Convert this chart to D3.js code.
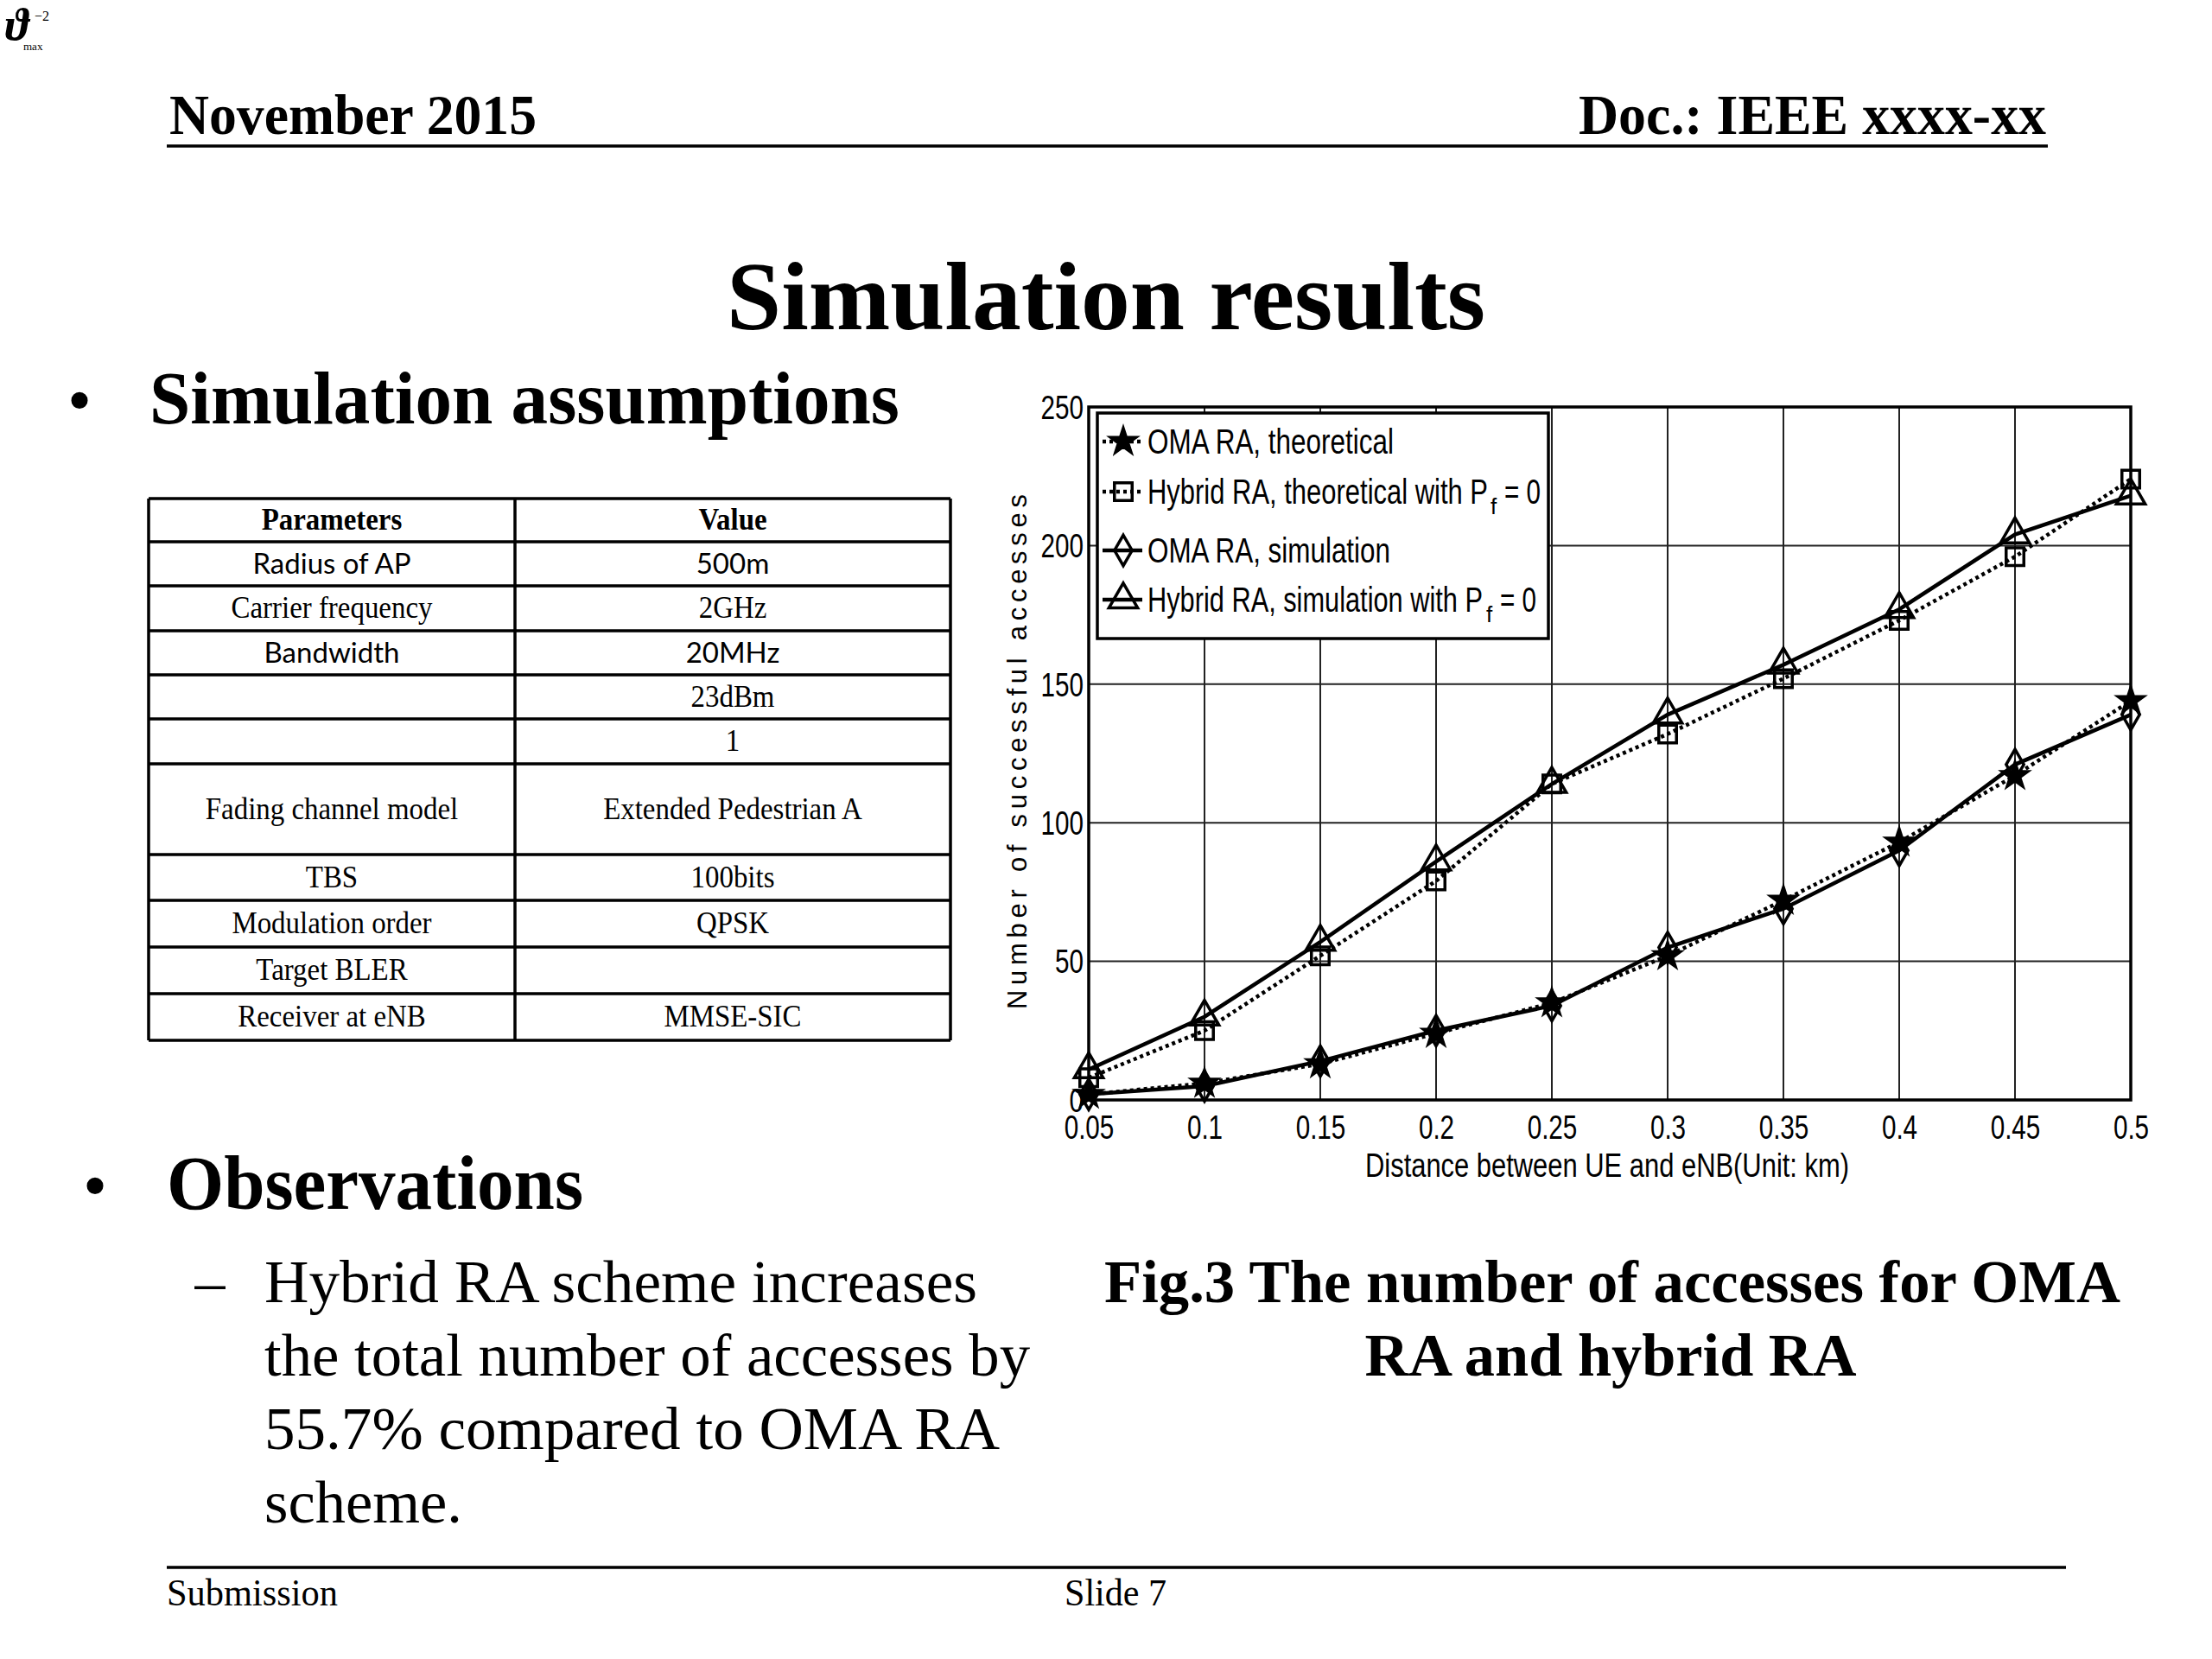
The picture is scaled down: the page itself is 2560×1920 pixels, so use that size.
<!DOCTYPE html>
<html><head><meta charset="utf-8">
<script src="https://cdn.jsdelivr.net/npm/d3@7"></script>
<style>html,body{margin:0;padding:0;background:#fff}</style>
</head><body>
<svg id="c" width="2560" height="1920"></svg>
<script>
// ---- data ----
const distances = [0.05,0.1,0.15,0.2,0.25,0.3,0.35,0.4,0.45,0.5];
const xTickLabels = ["0.05","0.1","0.15","0.2","0.25","0.3","0.35","0.4","0.45","0.5"];
const yTicks = [0,50,100,150,200,250];
const omaTheory    = [2, 6, 13, 24, 35, 52, 72, 93, 117, 144];
const hybridTheory = [8, 25, 52, 79, 114, 132, 152, 173, 196, 224];
const omaSim       = [2, 5, 14, 25, 34, 55, 69, 90, 121, 139];
const hybridSim    = [11, 30, 57, 86, 114, 139, 157, 177, 204, 218];
const seriesNames = ["OMA RA, theoretical","Hybrid RA, theoretical with P","OMA RA, simulation","Hybrid RA, simulation with P"];
const tableParams = ["Radius of AP","Carrier frequency","Bandwidth","","","Fading channel model","TBS","Modulation order","Target BLER","Receiver at eNB"];
const tableValues = ["500m","2GHz","20MHz","23dBm","1","Extended Pedestrian A","100bits","QPSK","","MMSE-SIC"];

const svg = d3.select("#c");
svg.append("rect").attr("width",2560).attr("height",1920).attr("fill","#fff");
const serif = "'Liberation Serif','Times New Roman',serif";
const sans = "'Liberation Sans',Arial,Helvetica,sans-serif";

function txt(s, x, y, size, opts={}) {
  const t = svg.append("text").attr("x",x).attr("y",y).text(s)
    .attr("font-family", opts.family||serif).attr("font-size",size)
    .attr("font-weight", opts.bold?"bold":"normal").attr("fill","#000");
  if (opts.anchor) t.attr("text-anchor",opts.anchor);
  if (opts.len) t.attr("textLength",opts.len).attr("lengthAdjust","spacingAndGlyphs");
  return t;
}

// top-left glyph
txt("ϑ", 6, 46, 52, {family:serif, bold:true}).attr("font-style","italic");
txt("−2", 40, 24, 16, {});
txt("max", 27, 58, 13, {});

// header
txt("November 2015", 196, 155, 66, {bold:true, len:425});
txt("Doc.: IEEE xxxx-xx", 2368, 155, 66, {bold:true, anchor:"end"}).attr("textLength",541).attr("lengthAdjust","spacingAndGlyphs");
svg.append("line").attr("x1",193).attr("x2",2370).attr("y1",169).attr("y2",169).attr("stroke","#000").attr("stroke-width",3.5);

// title
txt("Simulation results", 1280, 381, 112, {bold:true, anchor:"middle", len:878});
// bullets
txt("•", 92, 490, 80, {anchor:"middle"});
txt("Simulation assumptions", 173, 490, 86, {bold:true, len:868});
txt("•", 110, 1399, 80, {anchor:"middle"});
txt("Observations", 193, 1399, 88, {bold:true, len:482});

txt("–", 243, 1507, 70, {anchor:"middle"});
const obsLines = ["Hybrid RA scheme increases","the total number of accesses by","55.7% compared to OMA RA","scheme."];
const obsW = [825, 886, 851, 229];
obsLines.forEach((s,i)=> txt(s, 306, 1507 + i*85, 70, {len:obsW[i]}));

// caption
txt("Fig.3 The number of accesses for OMA", 1866, 1507, 70, {bold:true, anchor:"middle", len:1176});
txt("RA and hybrid RA", 1864, 1592, 70, {bold:true, anchor:"middle", len:569});

// footer
svg.append("line").attr("x1",193).attr("x2",2391).attr("y1",1814).attr("y2",1814).attr("stroke","#000").attr("stroke-width",3.5);
txt("Submission", 193, 1858, 44, {len:198});
txt("Slide 7", 1232, 1858, 44, {len:118});

// ---- table ----
const rowEdges = [577, 627, 678, 730, 781, 832, 884, 989, 1042, 1096, 1150, 1204];
const tL = 172, tM = 596, tR = 1100;
const tg = svg.append("g");
rowEdges.forEach(y => tg.append("line").attr("x1",tL).attr("x2",tR).attr("y1",y).attr("y2",y).attr("stroke","#000").attr("stroke-width",3.5));
[tL,tM,tR].forEach(x => tg.append("line").attr("x1",x).attr("x2",x).attr("y1",rowEdges[0]).attr("y2",rowEdges[rowEdges.length-1]).attr("stroke","#000").attr("stroke-width",3.5));
const sansCells = new Set(["Radius of AP","Bandwidth","500m","20MHz"]);
function cell(s, cx, r, bold) {
  if (!s) return;
  const cy = (rowEdges[r]+rowEdges[r+1])/2;
  const isSans = sansCells.has(s);
  const t = tg.append("text").attr("x",cx).attr("y",cy+11).attr("text-anchor","middle")
    .attr("font-family", isSans ? "Lato,'Open Sans',sans-serif" : serif)
    .attr("font-size", isSans ? 33 : 35).attr("font-weight", bold?"bold":"normal").text(s);
  if (!isSans) { const w = t.node().getComputedTextLength(); t.attr("textLength", w*0.94).attr("lengthAdjust","spacingAndGlyphs"); }
}
cell("Parameters", (tL+tM)/2, 0, true);
cell("Value", (tM+tR)/2, 0, true);
tableParams.forEach((s,i)=> cell(s,(tL+tM)/2,i+1,false));
tableValues.forEach((s,i)=> cell(s,(tM+tR)/2,i+1,false));

// ---- chart ----
const L = 1260, R = 2466, T = 471, B = 1273;
const x = d3.scaleLinear().domain([0.05,0.5]).range([L,R]);
const y = d3.scaleLinear().domain([0,250]).range([B,T]);
const g = svg.append("g");

// grid
g.selectAll(".vg").data(distances).join("line").attr("x1",d=>x(d)).attr("x2",d=>x(d)).attr("y1",T).attr("y2",B).attr("stroke","#222").attr("stroke-width",2);
g.selectAll(".hg").data(yTicks).join("line").attr("x1",L).attr("x2",R).attr("y1",d=>y(d)).attr("y2",d=>y(d)).attr("stroke","#222").attr("stroke-width",2);

// axes via d3
const xAxis = d3.axisBottom(x).tickValues(distances).tickFormat((d,i)=>xTickLabels[i]).tickSize(0).tickPadding(16);
const yAxis = d3.axisLeft(y).tickValues(yTicks).tickFormat(d3.format("d")).tickSize(0).tickPadding(6);
const gx = g.append("g").attr("transform",`translate(0,${B})`).call(xAxis);
const gy = g.append("g").attr("transform",`translate(${L},0)`).call(yAxis);
[gx,gy].forEach(a=>{ a.select(".domain").remove();
  a.selectAll("text").attr("font-family",sans).attr("font-size",38).attr("fill","#000");});
gx.selectAll("text").attr("dy","0.75em").each(function(){ const w=this.getComputedTextLength(); d3.select(this).attr("textLength", w*0.78).attr("lengthAdjust","spacingAndGlyphs"); });
gy.selectAll("text").attr("dy","0.35em").each(function(){ const w=this.getComputedTextLength(); d3.select(this).attr("textLength", w*0.78).attr("lengthAdjust","spacingAndGlyphs"); });

// box
g.append("rect").attr("x",L).attr("y",T).attr("width",R-L).attr("height",B-T).attr("fill","none").attr("stroke","#000").attr("stroke-width",3.5);

// axis titles
svg.append("text").attr("transform",`translate(1188,870) rotate(-90)`).attr("text-anchor","middle")
  .attr("font-family",sans).attr("font-size",31).attr("textLength",596).attr("lengthAdjust","spacing").text("Number of successful accesses");
svg.append("text").attr("x",1860).attr("y",1362).attr("text-anchor","middle")
  .attr("font-family",sans).attr("font-size",38).attr("textLength",560).attr("lengthAdjust","spacingAndGlyphs").text("Distance between UE and eNB(Unit: km)");

const series = [
  {vals: omaTheory, dash:"4,4", sym:d3.symbolStar, size:260, fill:"#000"},
  {vals: hybridTheory, dash:"4,4", sym:d3.symbolSquare, size:420, fill:"none"},
  {vals: omaSim, dash:null, sym:d3.symbolDiamond, size:360, fill:"none"},
  {vals: hybridSim, dash:null, sym:d3.symbolTriangle, size:480, fill:"none"},
];
const line = d3.line().x((d,i)=>x(distances[i])).y(d=>y(d));
series.forEach(s=>{
  const p = g.append("path").datum(s.vals).attr("d",line).attr("fill","none").attr("stroke","#000").attr("stroke-width",4.5);
  if (s.dash) p.attr("stroke-dasharray",s.dash);
});
series.forEach(s=>{
  g.selectAll(null).data(s.vals).join("path")
    .attr("d", d3.symbol().type(s.sym).size(s.size))
    .attr("transform",(d,i)=>`translate(${x(distances[i])},${y(d)})`)
    .attr("fill",s.fill).attr("stroke","#000").attr("stroke-width",3.5);
});

// legend
const lg = svg.append("g");
lg.append("rect").attr("x",1270).attr("y",478).attr("width",522).attr("height",261).attr("fill","#fff").attr("stroke","#000").attr("stroke-width",3.5);
const legY = [511, 569, 637, 694];
const legW = [285, 394, 281, 388];
const legEqX = [0, 1741, 0, 1736];
const legSubX = [0, 1725, 0, 1720];
series.forEach((s,i)=>{
  const yy = legY[i];
  const ln = lg.append("line").attr("x1",1276).attr("x2",1322).attr("y1",yy).attr("y2",yy).attr("stroke","#000").attr("stroke-width",4.5);
  if (s.dash) ln.attr("stroke-dasharray","4,4");
  lg.append("path").attr("d", d3.symbol().type(s.sym).size(s.size)).attr("transform",`translate(1300,${yy})`)
    .attr("fill",s.fill).attr("stroke","#000").attr("stroke-width",3.5);
  lg.append("text").attr("x",1328).attr("y",yy+14).attr("font-family",sans).attr("font-size",40)
    .attr("textLength",legW[i]).attr("lengthAdjust","spacingAndGlyphs").text(seriesNames[i]);
  if (i===1 || i===3) {
    lg.append("text").attr("x",legSubX[i]).attr("y",yy+26).attr("font-family",sans).attr("font-size",26).text("f");
    lg.append("text").attr("x",legEqX[i]).attr("y",yy+14).attr("font-family",sans).attr("font-size",40)
      .attr("textLength",42).attr("lengthAdjust","spacingAndGlyphs").text("= 0");
  }
});
</script>
</body></html>
